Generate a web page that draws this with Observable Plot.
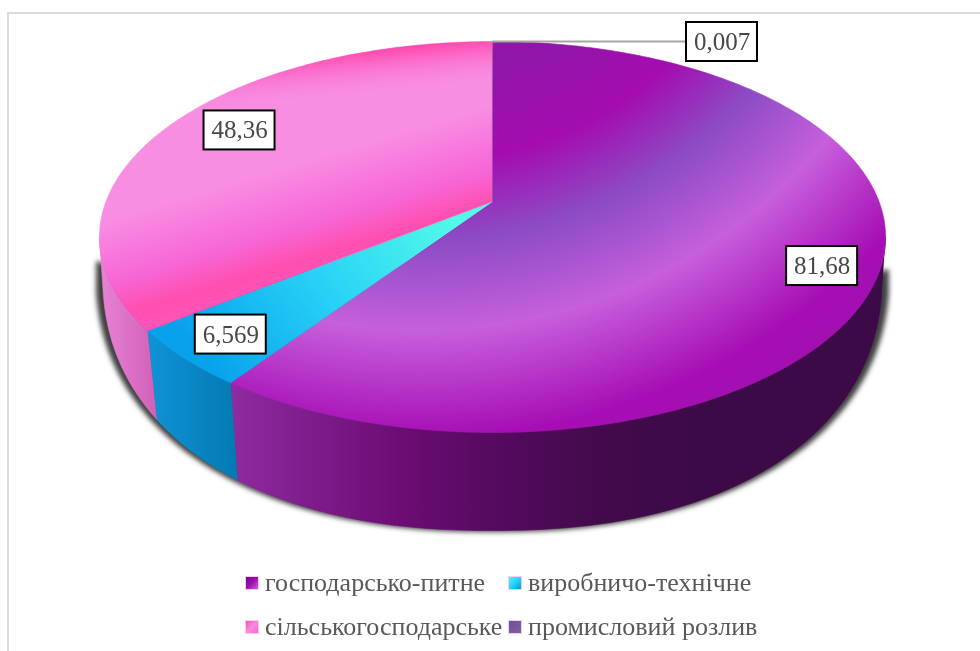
<!DOCTYPE html>
<html><head><meta charset="utf-8">
<script src="https://cdn.jsdelivr.net/npm/d3@7"></script>
<script src="https://cdn.jsdelivr.net/npm/@observablehq/plot@0.6"></script>
<style>
html,body{margin:0;padding:0;background:#fff;}
#wrap{position:relative;width:980px;height:651px;overflow:hidden;filter:blur(.4px);}
#frame{position:absolute;left:7px;top:12px;right:-6px;bottom:-6px;border:2px solid #dcdcdc;box-sizing:border-box;}
#chart{position:absolute;left:0;top:0;}
#legend{position:absolute;left:0;top:565px;width:980px;height:86px;font-family:"Liberation Serif",serif;font-size:26px;color:#595959;}
#legend .it{position:absolute;white-space:nowrap;line-height:26px;}
#legend i{position:absolute;width:12px;height:12px;left:-19px;top:7px;box-shadow:0 0 0 1px #f0d0f0;}
</style></head>
<body><div id="wrap"><div id="frame"></div><div id="chart"></div><div id="legend"></div></div>
<script>
const categories = ["господарсько-питне","виробничо-технічне","сільськогосподарське","промисловий розлив"];
const values = [81.68, 6.569, 48.36, 0.007];
const labelTexts = ["81,68","6,569","48,36","0,007"];

// look of the chart
const sliceFills = ["url(#gPurple)","url(#gCyan)","url(#gPink)","#7b4fa0"];
const wallFills = ["url(#wPurple)","url(#wCyan)","url(#wPink)","#7b4fa0"];
const legendSwatches = [
  "linear-gradient(135deg,#6a0a90,#a30db0 50%,#c65fdc)",
  "linear-gradient(135deg,#50f8e8,#28d0f8 50%,#0a90e0)",
  "linear-gradient(135deg,#ff4fb0,#f88ae0 50%,#ff60c8)",
  "linear-gradient(135deg,#6f4f9a,#80609f)"
];
const legendPos = [[265,570],[528,570],[265,614],[528,614]];
const H = 565;

// perspective of the disc
const P = {cx:492, a:201, b:-152.55, c:0.1816, d:386.5};
const top3 = (u,v)=>{const w=1+P.c*v; return [P.cx+P.d*u/w,(P.a+P.b*v)/w];};
// lower rim of the disc: a rounded curve under the top face
const R = {rx:390, yc:270, ry:260, n:2.25};
const low3 = (u,v)=>{
  const [x]=top3(u,v);
  const s=1-0.027*Math.min(1,Math.max(0,-v)/0.5);
  const dx=(x-P.cx)*s;
  const q=Math.min(1,Math.abs(dx)/R.rx);
  return [P.cx+dx, R.yc+R.ry*Math.pow(1-Math.pow(q,R.n),1/R.n)];
};
const at = (f,ang,r=1)=>f(r*Math.sin(ang),r*Math.cos(ang));
const arcs = d3.pie().sort(null).value(d=>d)(values);
const steps = (a0,a1)=>d3.range(0,1.0001,1/Math.max(2,Math.ceil((a1-a0)*60))).map(t=>a0+(a1-a0)*t);

const topPoly = arcs.map(s=>[top3(0,0),...steps(s.startAngle,s.endAngle).map(a=>at(top3,a))]);
// visible front wall
const wallFrom = Math.PI*0.558, wallTo = Math.PI*1.442;
const wallPoly = arcs.map(s=>{
  const a0=Math.max(s.startAngle,wallFrom), a1=Math.min(s.endAngle,wallTo);
  if(a1<=a0) return [];
  const st=steps(a0,a1);
  return [...st.map(a=>at(top3,a)),...st.slice().reverse().map(a=>at(low3,a))];
});
// shadow outline: the lower rim, carried a little way up each side
const rim = steps(wallFrom,wallTo).map(a=>at(low3,a));
const silhouette = [[rim[0][0],rim[0][1]-22],...rim,[rim[rim.length-1][0],rim[rim.length-1][1]-30]];

const labelLayout = [{r:.865,da:4.2},{r:.866,da:0},{r:.81,da:3.6}];
const labels = labelTexts.map((t,i)=>{
  if(i===3){const [x,y]=at(top3,0); return {t,x:x+229.5,y:y+.5};}
  const a=(arcs[i].startAngle+arcs[i].endAngle)/2+labelLayout[i].da*Math.PI/180;
  const [x,y]=at(top3,a,labelLayout[i].r); return {t,x,y};
});
const leader = [at(top3,0),[labels[3].x,labels[3].y-.5]];

const BW=35.5,BH=19.5;
const defs = () => {
  const s=d3.create("svg:defs");
  const grad=(id,type,attrs,stops)=>{
    const g=s.append(type).attr("id",id).attr("gradientUnits","userSpaceOnUse");
    Object.entries(attrs).forEach(([k,v])=>g.attr(k,v));
    stops.forEach(([o,c,a])=>g.append("stop").attr("offset",o).attr("stop-color",c).attr("stop-opacity",a===undefined?1:a));
  };
  grad("gPurple","radialGradient",{cx:420,cy:-200,r:700},[[.35,"#8a1aa6"],[.517,"#a40cb0"],[.63,"#8c4cc4"],[.757,"#c65fdc"],[.91,"#a60eb4"],[1,"#a010b0"]]);
  grad("gPink","linearGradient",{x1:43,y1:144,x2:103,y2:345},[[.43,"#f88ee2"],[.714,"#f767d8"],[.88,"#ff4fb0"],[1,"#ff55b8"]]);
  grad("gPinkTop","linearGradient",{x1:8.5,y1:84.6,x2:12.9,y2:129},[[0,"#ff46aa",1],[1,"#f97fde",0]]);
  grad("gCyan","linearGradient",{x1:440,y1:205,x2:215,y2:375},[[0,"#52f9e8"],[.5,"#28d2f6"],[1,"#08a2ec"]]);
  grad("wPurple","linearGradient",{x1:232,y1:0,x2:700,y2:0},[[0,"#8f2aa0"],[.35,"#6d0d75"],[.55,"#560a60"],[.8,"#420a4a"],[1,"#3d0a48"]]);
  grad("wCyan","linearGradient",{x1:150,y1:0,x2:238,y2:0},[[0,"#0f92d6"],[1,"#0479b2"]]);
  grad("wPink","linearGradient",{x1:104,y1:0,x2:158,y2:0},[[0,"#e680d2"],[1,"#cf5fb8"]]);
  const f=s.append("filter").attr("id","blur").attr("x","-5%").attr("y","-5%").attr("width","110%").attr("height","110%");
  f.append("feGaussianBlur").attr("stdDeviation",2.5);
  return s.node();
};
const blurred = (index,scales,vals,dims,ctx,next)=>{
  const g=next(index,scales,vals,dims,ctx); g.setAttribute("filter","url(#blur)"); return g;
};
const poly = (pts,fill,extra={}) => Plot.line(pts,{x:d=>d[0],y:d=>d[1],fill,stroke:fill,strokeWidth:.6,curve:"linear",...extra});

const plot = Plot.plot({
  width:980,height:H,margin:0,
  x:{type:"identity",axis:null},y:{type:"identity",axis:null},
  style:{background:"transparent",display:"block"},
  marks:[
    defs,
    Plot.line(silhouette,{x:d=>P.cx+(d[0]-P.cx)*1.012,y:d=>d[1]-1,fill:"#404040",stroke:"#404040",strokeWidth:5,strokeLinejoin:"round",strokeLinecap:"round",curve:"linear",render:blurred}),
    ...wallPoly.map((p,i)=>p.length?poly(p,wallFills[i]):null).filter(Boolean),
    ...topPoly.map((p,i)=>poly(p,sliceFills[i])),
    Plot.line(topPoly[2],{x:d=>d[0],y:d=>d[1],fill:"url(#gPinkTop)",curve:"linear"}),
    Plot.line(leader,{x:d=>d[0],y:d=>d[1],stroke:"#a6a6a6",strokeWidth:2}),
    Plot.rect(labels,{x1:d=>d.x-BW,x2:d=>d.x+BW,y1:d=>d.y-BH,y2:d=>d.y+BH,fill:"#fff",stroke:"#000",strokeWidth:2}),
    Plot.text(labels,{x:"x",y:d=>d.y,text:"t",fontFamily:"Liberation Serif",fontSize:25,fill:"#484848"})
  ]
});
document.getElementById("chart").append(plot);
const lg=d3.select("#legend");
categories.forEach((c,i)=>{
  const it=lg.append("div").attr("class","it").style("left",legendPos[i][0]+"px").style("top",(legendPos[i][1]-565)+"px");
  it.append("i").style("background",legendSwatches[i]);
  it.append("span").text(c);
});
</script></body></html>
